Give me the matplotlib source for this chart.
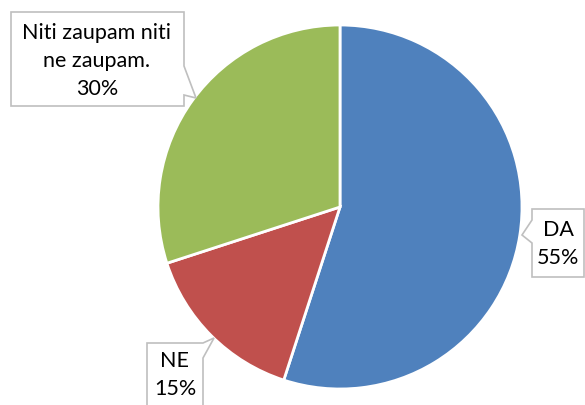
import matplotlib.pyplot as plt
from matplotlib.patches import Polygon

labels = ["DA", "NE", "Niti zaupam niti\nne zaupam."]
values = [55, 15, 30]
colors = ["#4f81bd", "#c0504d", "#9bbb59"]

plt.rcParams['font.family'] = ['Lato', 'DejaVu Sans']

W, H = 585, 405
fig = plt.figure(figsize=(5.85, 4.05), dpi=100)
ax = fig.add_axes([0, 0, 1, 1])

cx, cy, r = 340, H - 207, 182
ax.pie(values, colors=colors, startangle=90, counterclock=False,
       center=(cx, cy), radius=r,
       wedgeprops=dict(edgecolor='white', linewidth=2))
ax.set_xlim(0, W)
ax.set_ylim(0, H)
ax.set_aspect('equal')
ax.axis('off')

def P(pts):
    return [(x, H - y) for x, y in pts]

# callout shapes (pixel coords from top)
shapes = [
    # DA
    [(532, 209), (584, 209), (584, 277), (532, 277), (532, 243), (522, 235), (532, 220)],
    # NE
    [(147, 343), (203, 343), (214, 338), (203, 358), (203, 410), (147, 410)],
    # Niti
    [(11, 12), (184, 12), (184, 66), (196, 98), (184, 95), (184, 106), (11, 106)],
]
for s in shapes:
    ax.add_patch(Polygon(P(s), closed=True, facecolor='white', edgecolor='#bfbfbf',
                         linewidth=1.2, zorder=5))

texts = [
    (f"{labels[0]}\n{values[0]}%", 558, 244),
    (f"{labels[1]}\n{values[1]}%", 175, 375),
    (f"{labels[2]}\n{values[2]}%", 97, 61),
]
for t, x, y in texts:
    ax.text(x, H - y, t, ha='center', va='center', fontsize=15.5,
            linespacing=1.5, color='#000000', zorder=6)

fig.savefig('out.png', dpi=100)
